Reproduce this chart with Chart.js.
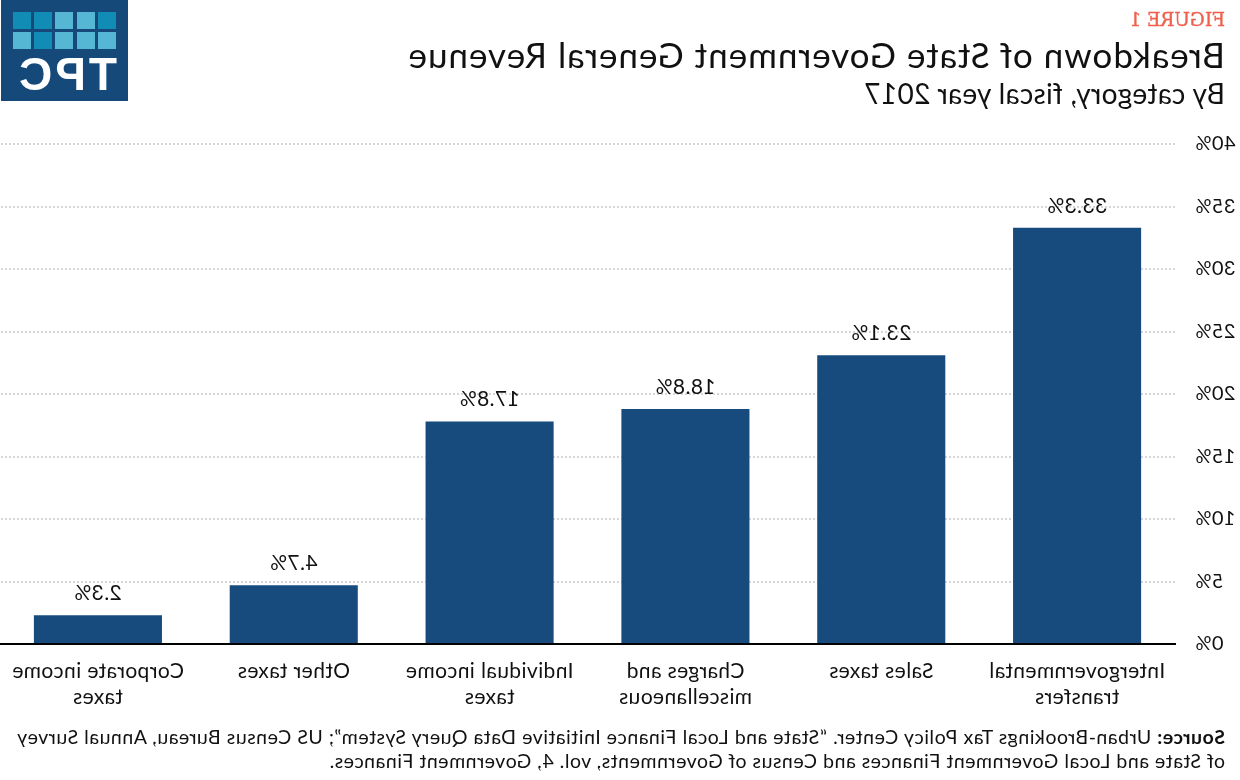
<!DOCTYPE html>
<html>
<head>
<meta charset="utf-8">
<title>Breakdown of State Government General Revenue</title>
<script src="https://cdn.jsdelivr.net/npm/chart.js@4"></script>
<style>
    html, body { margin: 0; padding: 0; background: #fff; }
    /* the reference is a left-right mirror image, so the whole page is flipped */
    #page {
        position: relative; width: 1240px; height: 780px; overflow: hidden;
        transform: scaleX(-1); font-family: Lato, sans-serif; color: #111;
    }
    #page > * { position: absolute; white-space: nowrap; }
    #chart { left: 0; top: 0; width: 1240px; height: 780px; }
    #figure { left: 15px; top: 9px; font: 18.5px "DejaVu Serif", serif; color: #ef5f4c; -webkit-text-stroke: 0.35px #ef5f4c; }
    #title { left: 15px; top: 33px; font-size: 35px; letter-spacing: 1px; }
    #subtitle { left: 15px; top: 76px; font-size: 28px; letter-spacing: 0.33px; }
    .note { left: 15px; font-size: 19.5px; letter-spacing: 0.53px; }
    #logo { left: 1112px; top: 0; width: 127px; height: 101px; background: #14497a; }
    #logo i { position: absolute; width: 18px; height: 17px; }
    #logo b { position: absolute; left: 11px; top: 47px; font: bold 46px "Liberation Sans", sans-serif; letter-spacing: 3px; color: #fff; }
</style>
</head>
<body>
<div id="page">
    <canvas id="chart" width="1240" height="780"></canvas>
    <div id="figure">FIGURE 1</div>
    <div id="title">Breakdown of State Government General Revenue</div>
    <div id="subtitle">By category, fiscal year 2017</div>
    <div class="note" style="top:725px"><b>Source:</b> Urban-Brookings Tax Policy Center. “State and Local Finance Initiative Data Query System”; US Census Bureau, Annual Survey</div>
    <div class="note" style="top:749px">of State and Local Government Finances and Census of Governments, vol. 4, Government Finances.</div>
    <div id="logo"><b>TPC</b></div>
</div>
<script>
const categories = [
    ["Intergovernmental", "transfers"],
    ["Sales taxes"],
    ["Charges and", "miscellaneous"],
    ["Individual income", "taxes"],
    ["Other taxes"],
    ["Corporate income", "taxes"],
];
const shares = [33.3, 23.1, 18.8, 17.8, 4.7, 2.3];
const yMax = 40;
const yStep = 5;

const FONT = "Lato";
const NAVY = "#174b7d";

// logo squares, two rows of five
const LOGO_DARK = "#118db5";
const LOGO_LIGHT = "#55b7d3";
const logo = document.getElementById("logo");
[
    [LOGO_DARK, LOGO_LIGHT, LOGO_LIGHT, LOGO_DARK, LOGO_DARK],
    [LOGO_LIGHT, LOGO_LIGHT, LOGO_LIGHT, LOGO_DARK, LOGO_LIGHT],
].forEach((row, r) => {
    row.forEach((color, c) => {
        const sq = document.createElement("i");
        sq.style.left = 12 + c * 21.3 + "px";
        sq.style.top = 12 + r * 19.5 + "px";
        sq.style.background = color;
        logo.appendChild(sq);
    });
});

// canvas text needs a little tracking to fill the same width as the original face
const tracking = {
    id: "tracking",
    beforeDraw(chart) {
        chart.ctx.letterSpacing = "0.4px";
    },
};

// value above each bar
const barLabels = {
    id: "barLabels",
    afterDatasetsDraw(chart) {
        const ctx = chart.ctx;
        ctx.save();
        ctx.font = `21px ${FONT}`;
        ctx.fillStyle = "#111";
        ctx.textAlign = "center";
        ctx.textBaseline = "middle";
        chart.getDatasetMeta(0).data.forEach((bar, i) => {
            ctx.fillText(shares[i].toFixed(1) + "%", bar.x, bar.y - 22);
        });
        ctx.restore();
    },
};

new Chart(document.getElementById("chart"), {
    type: "bar",
    data: {
        labels: categories,
        datasets: [{
            data: shares,
            backgroundColor: NAVY,
            barPercentage: 0.654,
            categoryPercentage: 1,
        }],
    },
    options: {
        responsive: false,
        animation: false,
        layout: { padding: { top: 144, right: 0, left: 0, bottom: 0 } },
        plugins: { legend: { display: false }, tooltip: { enabled: false } },
        scales: {
            x: {
                grid: { display: false },
                border: { color: "#000", width: 2 },
                afterFit: (scale) => { scale.height = 136; },
                ticks: {
                    color: "#111",
                    font: { family: FONT, size: 21, lineHeight: 1.24 },
                    padding: 6,
                    maxRotation: 0,
                    autoSkip: false,
                },
            },
            y: {
                min: 0,
                max: yMax,
                afterFit: (scale) => { scale.width = 65; },
                border: { display: false, dash: [2, 2] },
                grid: {
                    color: (c) => (c.tick.value === 0 ? "transparent" : "#d6d6d6"),
                    lineWidth: 2,
                    drawTicks: false,
                },
                ticks: {
                    stepSize: yStep,
                    color: "#111",
                    font: { family: FONT, size: 20 },
                    padding: 20,
                    callback: (v) => v + "%",
                },
            },
        },
    },
    plugins: [tracking, barLabels],
});
</script>
</body>
</html>
